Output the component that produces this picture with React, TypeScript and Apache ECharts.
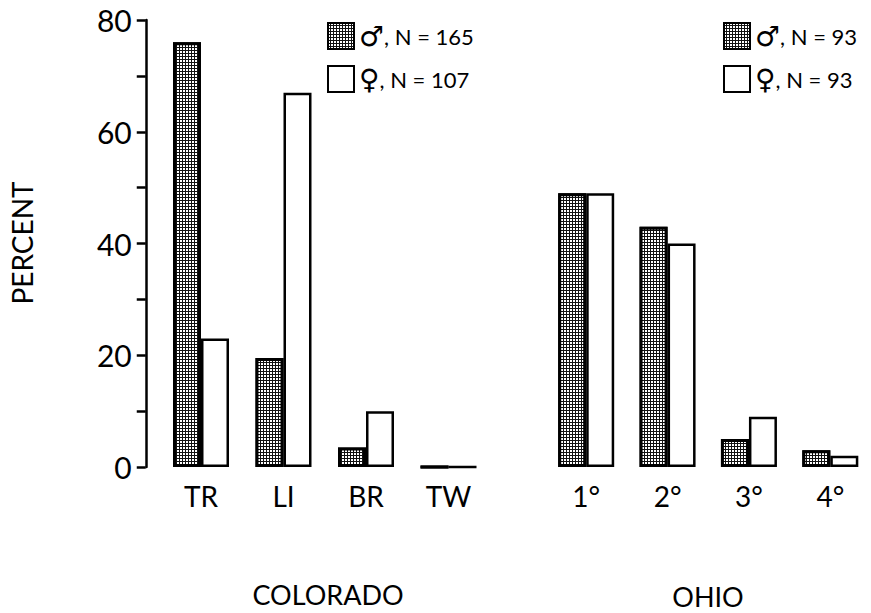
import React, { useEffect, useRef } from "react";
import * as echarts from "echarts";

const coloradoCats = ["TR", "LI", "BR", "TW"];
const coloradoMale = [76, 19.5, 3.5, 0];
const coloradoFemale = [23, 67, 10, 0];

const ohioCats = ["1°", "2°", "3°", "4°"];
const ohioMale = [49, 43, 5, 3];
const ohioFemale = [49, 40, 9, 2];

const yTicks = [0, 20, 40, 60, 80];

const legendLabels: Record<string, string> = {
  coMale: "{s|♂}{t|, N = 165}",
  coFemale: "{s|♀}{t|, N = 107}",
  ohMale: "{s|♂}{t|, N = 93}",
  ohFemale: "{s|♀}{t|, N = 93}",
};

const FONT = "Lato, 'Noto Sans', sans-serif";

export default function App() {
  const ref = useRef<HTMLDivElement>(null);
  useEffect(() => {
    document.body.style.margin = "0";
    if (!ref.current) return;
    const chart = echarts.init(ref.current, null, { renderer: "svg" });
    const maleStyle = {
      color: "#111",
      borderColor: "#000",
      borderWidth: 3,
      decal: {
        symbol: "rect",
        symbolSize: 1,
        dashArrayX: [2, 1],
        dashArrayY: [2, 1],
        color: "#ffffff",
        rotation: 0,
      },
    };
    const femaleStyle = { color: "#fff", borderColor: "#000", borderWidth: 2.5 };
    const legendText = {
      color: "#000",
      fontFamily: FONT,
      rich: {
        s: { fontSize: 28, lineHeight: 26, fontFamily: "'DejaVu Sans', sans-serif", color: "#000" },
        t: { fontSize: 22, lineHeight: 26, fontFamily: FONT, color: "#000" },
      },
    };
    const xAxisCommon = {
      type: "category" as const,
      axisLine: { show: false },
      axisTick: { show: false },
      axisLabel: { fontSize: 28, color: "#000", fontFamily: FONT, margin: 15 },
    };
    chart.setOption({
      animation: false,
      backgroundColor: "#fff",
      grid: [
        { left: 159.75, top: 20, width: 330, height: 447 },
        { left: 545.5, top: 20, width: 332, height: 447 },
      ],
      xAxis: [
        { ...xAxisCommon, gridIndex: 0, data: coloradoCats },
        { ...xAxisCommon, gridIndex: 1, data: ohioCats },
      ],
      yAxis: [
        {
          type: "value",
          gridIndex: 0,
          min: yTicks[0],
          max: yTicks[yTicks.length - 1],
          interval: 20,
          offset: 14,
          axisLine: { show: true, lineStyle: { color: "#000", width: 2.5 } },
          axisTick: { show: true, length: 9, lineStyle: { color: "#000", width: 2.5 } },
          minorTick: { show: true, splitNumber: 2, length: 9, lineStyle: { color: "#000", width: 2.5 } },
          splitLine: { show: false },
          axisLabel: { fontSize: 30, color: "#000", fontFamily: FONT, margin: 14 },
        },
        {
          type: "value",
          gridIndex: 1,
          min: 0,
          max: 80,
          interval: 20,
          show: false,
          splitLine: { show: false },
        },
      ],
      legend: [
        {
          orient: "vertical",
          left: 327,
          top: 22,
          padding: 0,
          itemWidth: 26,
          itemHeight: 26,
          itemGap: 15,
          icon: "rect",
          data: ["coMale", "coFemale"],
          formatter: (n: string) => legendLabels[n],
          textStyle: legendText,
          selectedMode: false,
        },
        {
          orient: "vertical",
          left: 723,
          top: 22,
          padding: 0,
          itemWidth: 26,
          itemHeight: 26,
          itemGap: 15,
          icon: "rect",
          data: ["ohMale", "ohFemale"],
          formatter: (n: string) => legendLabels[n],
          textStyle: legendText,
          selectedMode: false,
        },
      ],
      series: [
        {
          name: "coMale",
          type: "bar",
          xAxisIndex: 0,
          yAxisIndex: 0,
          data: coloradoMale,
          barWidth: 28,
          barGap: "0%",
          itemStyle: maleStyle,
        },
        {
          name: "coFemale",
          type: "bar",
          xAxisIndex: 0,
          yAxisIndex: 0,
          data: coloradoFemale,
          barWidth: 28,
          barGap: "0%",
          itemStyle: femaleStyle,
        },
        {
          name: "ohMale",
          type: "bar",
          xAxisIndex: 1,
          yAxisIndex: 1,
          data: ohioMale,
          barWidth: 28,
          barGap: "0%",
          itemStyle: maleStyle,
        },
        {
          name: "ohFemale",
          type: "bar",
          xAxisIndex: 1,
          yAxisIndex: 1,
          data: ohioFemale,
          barWidth: 28,
          barGap: "0%",
          itemStyle: femaleStyle,
        },
      ],
      graphic: [
        {
          type: "text",
          x: 22,
          y: 243,
          rotation: Math.PI / 2,
          style: {
            text: "PERCENT",
            fontSize: 28,
            fontFamily: FONT,
            fill: "#000",
            textAlign: "center",
            textVerticalAlign: "middle",
          },
        },
        {
          type: "text",
          x: 328,
          y: 594,
          style: {
            text: "COLORADO",
            fontSize: 27,
            fontFamily: FONT,
            fill: "#000",
            textAlign: "center",
            textVerticalAlign: "middle",
          },
        },
        {
          type: "text",
          x: 708,
          y: 596,
          style: {
            text: "OHIO",
            fontSize: 27,
            fontFamily: FONT,
            fill: "#000",
            textAlign: "center",
            textVerticalAlign: "middle",
          },
        },
      ],
    });
    return () => chart.dispose();
  }, []);
  return (
    <div
      ref={ref}
      style={{ position: "absolute", left: 0, top: 0, width: 871, height: 613 }}
    />
  );
}
